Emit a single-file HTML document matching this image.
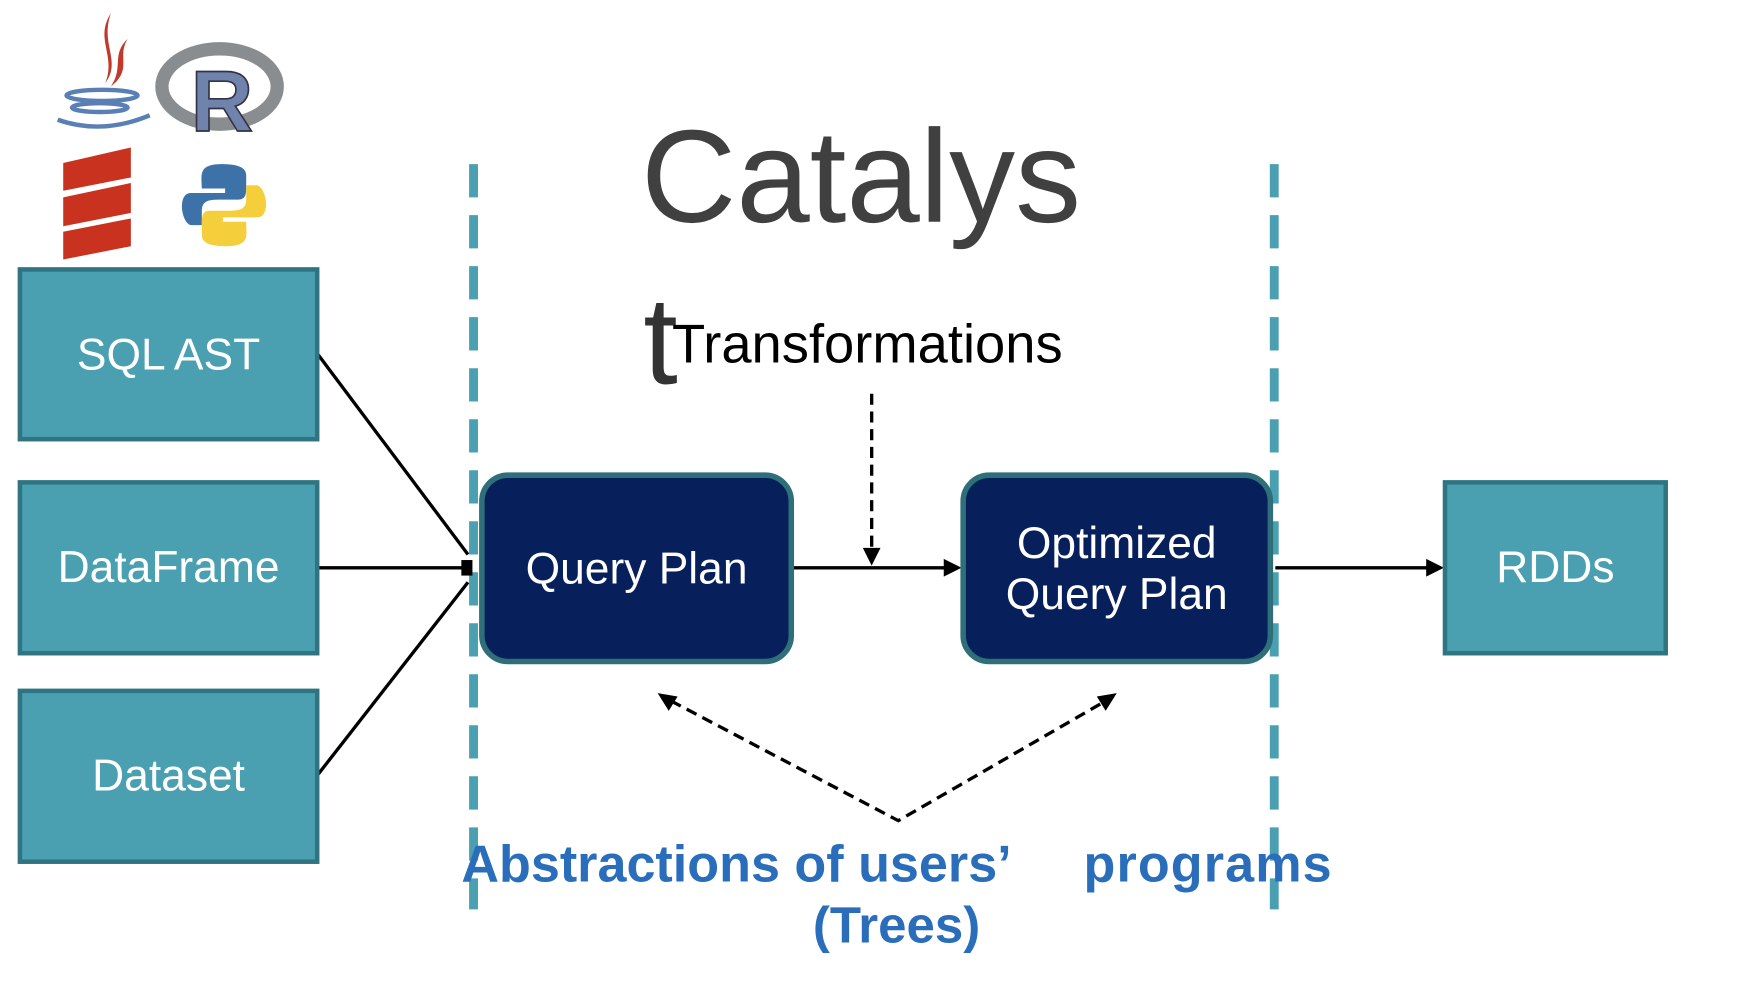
<!DOCTYPE html><html><head><meta charset="utf-8"><style>
html,body{margin:0;padding:0;width:1738px;height:984px;overflow:hidden;background:#fff}
#w{position:absolute;left:0;top:0;width:1570px;height:888px;transform:scale(1.109);transform-origin:0 0;font-family:"Liberation Sans","DejaVu Sans",sans-serif}
.b{position:absolute;background:#4aa0b0;border:4px solid #2f7480;box-sizing:border-box;color:#fff;font-size:40px;display:flex;align-items:center;justify-content:center;text-align:center;line-height:1.15}
.q{position:absolute;background:#071f5a;border:5px solid #2e6f7a;border-radius:26px;box-sizing:border-box;color:#fff;font-size:40px;display:flex;align-items:center;justify-content:center;text-align:center;line-height:1.15}
.t{position:absolute;white-space:nowrap}
</style></head><body><div id="w">
<svg width="1570" height="888" style="position:absolute;left:0;top:0">
<g stroke="#4aa0b0" stroke-width="8" stroke-dasharray="30 16">
<line x1="427" y1="148" x2="427" y2="820"/><line x1="1149" y1="148" x2="1149" y2="820"/></g>
<path d="M100 12 C85 35 105 50 95 75 C110 55 90 40 100 12Z" fill="#c0392b"/>
<path d="M115 35 C100 50 112 60 100 78 C120 62 105 52 115 35Z" fill="#c0392b"/>
<g fill="none" stroke="#5a7fb5" stroke-width="4"><ellipse cx="92" cy="86" rx="32" ry="5"/><ellipse cx="90" cy="97" rx="25" ry="4"/><path d="M52 108 Q92 122 135 104"/></g>
<ellipse cx="198" cy="78" rx="52" ry="34" fill="none" stroke="#8a8d8f" stroke-width="12"/>
<text x="172" y="118" font-size="78" font-weight="bold" fill="#6f83ad" stroke="#334" stroke-width="1.5" font-family="Liberation Sans">R</text>
<g fill="#c8321e"><path d="M57 147 L118 133 L118 160 L57 172Z"/><path d="M57 178 L118 165 L118 192 L57 204Z"/><path d="M57 209 L118 197 L118 222 L57 234Z"/></g>
<path d="M200 148 C178 148 182 158 182 170 L203 170 L203 174 L172 174 C160 174 163 200 172 203 L182 203 L182 190 C182 180 190 180 200 180 L215 180 C222 180 222 174 222 168 L222 158 C222 150 212 148 200 148Z" fill="#3d72a8"/>
<path d="M204 222 C226 222 222 212 222 200 L201 200 L201 196 L232 196 C244 196 241 170 232 167 L222 167 L222 180 C222 190 214 190 204 190 L189 190 C182 190 182 196 182 202 L182 212 C182 220 192 222 204 222Z" fill="#f4cf3b"/>
<g stroke="#000" stroke-width="3" fill="none">
<line x1="287" y1="320" x2="422" y2="500"/><line x1="287" y1="512" x2="422" y2="512"/><line x1="287" y1="698" x2="422" y2="525"/>
<line x1="715" y1="512" x2="855" y2="512"/><line x1="1150" y1="512" x2="1290" y2="512"/>
<line x1="786" y1="355" x2="786" y2="497" stroke-dasharray="10 6"/>
<polyline points="605,632 810,740 997,632" stroke-dasharray="10 6"/></g>
<rect x="416" y="505" width="10" height="14" fill="#000"/>
<g fill="#000"><polygon points="867,512 851,504 851,520"/><polygon points="1302,512 1286,504 1286,520"/><polygon points="786,510 778,494 794,494"/>
<polygon points="593,625 611,628 603,641"/><polygon points="1007,625 989,628 997,641"/></g>
</svg>
<div class="b" style="left:16px;top:241px;width:272px;height:157px">SQL AST</div>
<div class="b" style="left:16px;top:433px;width:272px;height:158px">DataFrame</div>
<div class="b" style="left:16px;top:621px;width:272px;height:158px">Dataset</div>
<div class="b" style="left:1301px;top:433px;width:203px;height:158px">RDDs</div>
<div class="q" style="left:432px;top:426px;width:284px;height:173px">Query Plan</div>
<div class="q" style="left:866px;top:426px;width:282px;height:173px">Optimized<br>Query Plan</div>
<div class="t" style="left:578px;top:100px;font-size:119px;color:#404040;line-height:1">Catalys</div>
<div class="t" style="left:580px;top:252px;font-size:112px;color:#333;line-height:1">t</div>
<div class="t" style="left:606px;top:287px;font-size:49px;color:#000;line-height:1">Transformations</div>
<div class="t" style="left:416px;top:755px;font-size:47px;font-weight:bold;color:#2a6ebb;line-height:1">Abstractions of users’</div>
<div class="t" style="left:977px;top:755px;font-size:47px;font-weight:bold;color:#2a6ebb;line-height:1;letter-spacing:1px">programs</div>
<div class="t" style="left:733px;top:811px;font-size:46px;font-weight:bold;color:#2a6ebb;line-height:1">(Trees)</div>
</div></body></html>
